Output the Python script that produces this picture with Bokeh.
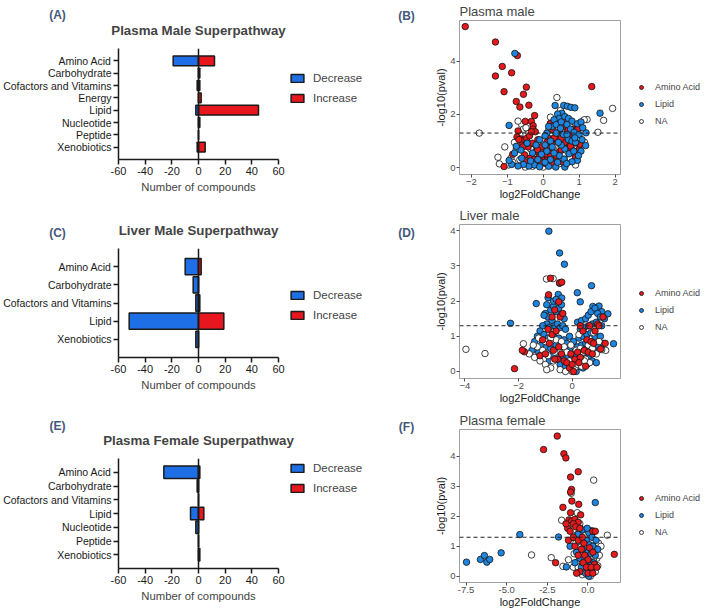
from bokeh.plotting import figure
from bokeh.models import (FactorRange, Range1d, FixedTicker, Span, Legend, LegendItem,
                          Label, ColumnDataSource, PrintfTickFormatter, GridBox)
from bokeh.layouts import column, row
from bokeh.embed import file_html
from bokeh.resources import INLINE

FONT = "Liberation Sans"

# ---------------- bar panels (superpathway counts) ----------------
A_cats = ["Amino Acid", "Carbohydrate", "Cofactors and Vitamins", "Energy",
          "Lipid", "Nucleotide", "Peptide", "Xenobiotics"]
A_dec = [-19, 0, -1, 0, -2, 0, 0, -1]
A_inc = [12, 1, 1, 2, 45, 1, 0, 5]

C_cats = ["Amino Acid", "Carbohydrate", "Cofactors and Vitamins", "Lipid", "Xenobiotics"]
C_dec = [-10, -4, -2, -52, -2]
C_inc = [2, 0, 1, 19, 0]

E_cats = ["Amino Acid", "Carbohydrate", "Cofactors and Vitamins", "Lipid",
          "Nucleotide", "Peptide", "Xenobiotics"]
E_dec = [-26, -1, 0, -6, -2, 0, 0]
E_inc = [1, 0, 0, 4, 0, 0, 1]

bar_ticks = [-60, -40, -20, 0, 20, 40, 60]
bar_series = ["Decrease", "Increase"]

# ---------------- volcano panels (log2FoldChange, -log10(pval)) ----------------
B_amino = [(-2.17, 5.31), (-1.33, 4.73), (-0.72, 4.22), (-1.14, 3.81), (-1.33, 3.45), (-0.88, 3.57),
           (-1.09, 2.86), (-0.47, 3.03), (-0.55, 2.76), (-0.75, 2.49), (-0.65, 2.28), (-0.40, 2.35),
           (1.35, 3.05), (-0.24, 1.96), (-0.50, 1.74), (-0.33, 1.74), (-0.28, 1.58), (-0.29, 1.45),
           (-0.70, 1.38), (-0.73, 1.15), (-0.62, 1.08), (-0.55, 1.02), (-0.46, 1.10), (-0.38, 1.20),
           (-0.22, 1.35), (-0.60, 0.85), (-0.42, 0.78), (-0.30, 0.92), (-0.18, 0.62), (-0.52, 0.48),
           (-0.36, 0.36), (-0.20, 0.22), (-0.08, 0.12), (-0.85, 0.50), (-1.09, 0.04), (-0.50, 0.22),
           (-0.12, 0.40), (-0.02, 0.30), (0.05, 0.55), (0.12, 0.40), (0.18, 0.58), (0.25, 0.92),
           (0.15, 1.10), (0.28, 1.08), (0.38, 1.05), (0.20, 1.65), (0.27, 1.42), (0.45, 1.35),
           (0.55, 1.55), (0.62, 1.75), (0.74, 1.20), (0.84, 1.45), (0.95, 1.45), (0.60, 0.95),
           (0.70, 0.75), (1.00, 0.70), (0.35, 0.25), (0.25, 0.18), (0.90, 0.40), (1.02, 0.88),
           (0.15, 0.75), (-0.05, 0.78), (0.45, 0.60), (0.08, 0.15), (0.50, 1.10), (0.65, 1.50),
           (0.33, 1.70), (0.10, 0.95), (0.40, 0.45), (0.55, 0.20), (-0.15, 1.05), (-0.33, 1.35),
           (-0.46, 0.91), (-0.68, 1.06), (-0.57, 0.78), (-0.16, 0.68), (0.08, 0.51), (0.36, 0.44),
           (0.20, 0.41), (-0.07, 0.22), (-0.25, 0.31), (0.50, 0.66), (0.76, 0.81), (0.90, 0.93),
           (0.69, 1.41), (0.86, 1.21), (0.97, 1.47), (0.31, 1.13), (0.20, 1.66), (0.50, 1.60)]
B_lipid = [(-0.79, 4.30), (1.58, 2.05), (-0.95, 1.59), (0.33, 2.34), (0.57, 2.34), (0.67, 2.31),
           (0.77, 2.27), (0.88, 2.25), (0.52, 2.05), (0.40, 2.02), (0.45, 1.85), (0.60, 1.92),
           (0.70, 1.85), (0.80, 1.75), (0.95, 1.65), (1.05, 1.72), (1.19, 1.31), (1.18, 0.83),
           (1.05, 0.62), (0.95, 0.27), (0.30, 1.80), (0.25, 1.55), (0.36, 1.62), (0.50, 1.72),
           (0.66, 1.62), (0.76, 1.45), (0.86, 1.33), (0.56, 1.25), (0.36, 1.30), (0.70, 1.05),
           (0.80, 1.00), (0.90, 0.95), (0.60, 0.70), (0.50, 0.85), (0.45, 0.45), (0.58, 0.32),
           (0.72, 0.52), (0.80, 0.22), (0.30, 0.55), (0.20, 0.30), (0.10, 0.62), (0.05, 0.85),
           (-0.05, 0.50), (-0.15, 0.30), (-0.25, 0.10), (-0.40, 0.06), (-0.55, 0.12), (-0.70, 0.06),
           (-0.88, 0.12), (-0.95, 0.27), (-0.80, 0.55), (-0.62, 0.66), (-0.45, 0.92), (-0.30, 0.55),
           (-0.20, 0.85), (-0.10, 1.05), (0.10, 1.30), (0.20, 1.00), (0.42, 0.95), (0.66, 1.25),
           (1.00, 1.25), (1.10, 1.50), (0.15, 0.05), (0.35, 0.02), (0.60, 0.02), (-0.10, 0.03),
           (0.05, 0.20), (0.25, 0.78), (0.40, 0.20), (0.65, 0.15), (0.85, 0.62), (0.98, 0.45),
           (0.15, 1.55), (0.05, 1.20), (-0.35, 0.25), (-0.60, 0.35), (0.48, 1.48), (0.88, 1.12),
           (1.08, 1.05), (-0.75, 0.80)]
B_na = [(0.38, 2.64), (-1.78, 1.30), (1.93, 2.23), (1.68, 1.78), (1.52, 1.33), (1.22, 1.81),
        (1.14, 1.80), (-1.07, 0.78), (-1.26, 0.39), (-1.22, 0.14), (-0.60, 1.62), (-0.70, 1.75),
        (-0.55, 1.45), (-0.65, 1.22), (-0.80, 0.95), (-0.75, 0.70), (-0.90, 0.35), (-0.96, 0.10),
        (-0.65, 0.30), (-0.50, 0.02), (-0.30, 0.05), (-0.35, 0.70), (-0.15, 0.95), (-0.05, 0.30),
        (0.00, 0.02), (0.10, 0.30), (0.25, 0.10), (0.30, 0.80), (0.45, 0.15), (0.55, 0.45),
        (0.65, 0.22), (0.75, 0.35), (0.85, 0.60), (0.95, 0.80), (1.05, 0.95), (1.00, 1.10),
        (0.40, 1.50), (0.20, 1.90), (0.48, 2.15), (-0.40, 1.30), (-0.48, 1.50), (0.15, 1.40),
        (0.75, 1.55), (1.15, 0.95), (0.90, 0.10), (-0.25, 0.40), (0.02, 0.60), (0.60, 1.05),
        (-0.85, 0.20), (0.32, 0.40)]

D_amino = [(-0.47, 2.52), (-0.39, 2.54), (-0.81, 2.65), (-0.88, 2.18), (-0.50, 1.98), (-2.15, 0.08),
           (-1.78, 0.56), (-1.86, 0.60), (1.23, 0.80), (1.06, 0.64), (1.15, 1.55), (0.95, 1.35),
           (-0.90, 1.20), (-0.75, 1.05), (-0.60, 1.15), (-0.45, 1.55), (-0.35, 1.65), (-0.85, 0.80),
           (-0.70, 0.60), (-0.55, 0.35), (-0.40, 0.50), (-0.30, 0.30), (-1.20, 0.45), (-1.00, 0.50),
           (-0.65, 0.35), (-0.20, 0.25), (-0.10, 0.10), (0.10, 0.35), (0.20, 0.55), (0.30, 0.40),
           (0.45, 0.60), (0.55, 0.90), (0.70, 0.85), (0.80, 0.80), (0.85, 1.15), (0.65, 1.30),
           (0.40, 1.15), (0.25, 0.25), (0.50, 0.15), (0.60, 0.55), (0.75, 0.50), (0.00, 0.20),
           (-0.05, 0.50), (1.00, 1.30), (0.30, 1.30), (-1.10, 0.90), (-0.65, 1.75), (-0.75, 1.55),
           (-0.50, 0.70), (0.05, 0.00)]
D_lipid = [(-0.87, 3.99), (-0.47, 3.37), (-0.29, 3.05), (0.72, 2.44), (0.19, 2.24), (0.30, 1.98),
           (-1.34, 1.93), (-2.30, 1.37), (-0.47, 2.51), (-0.90, 2.10), (-0.52, 2.19), (-0.39, 2.09),
           (1.54, 0.79), (1.00, 1.86), (0.77, 1.85), (1.10, 1.70), (1.33, 1.64),
           (-1.00, 1.65), (-0.90, 1.55), (-0.80, 1.75), (-0.70, 1.85), (-0.60, 1.70), (-0.50, 1.80),
           (-0.40, 1.60), (-0.30, 1.50), (-0.95, 1.35), (-0.85, 1.25), (-0.75, 1.45), (-0.65, 1.30),
           (-0.55, 1.35), (-0.45, 1.25), (-0.35, 1.30), (-0.25, 1.20), (-1.10, 1.30), (-1.20, 1.15),
           (-1.30, 1.00), (-1.40, 0.85), (-1.05, 1.05), (-0.90, 0.95), (-0.70, 1.00), (-0.50, 0.95),
           (-0.30, 0.90), (-1.15, 0.75), (-0.95, 0.70), (-0.80, 0.65), (-0.60, 0.75), (-0.40, 0.70),
           (-0.20, 0.80), (-1.25, 0.55), (-1.50, 0.60), (-0.75, 0.45), (-0.55, 0.50), (-0.35, 0.45),
           (-0.15, 0.40), (-0.70, 2.00), (-0.60, 2.05), (-0.95, 1.90), (-0.40, 1.90), (-1.05, 1.60),
           (-0.85, 0.30), (-0.45, 0.20), (-0.25, 0.15),
           (0.20, 1.40), (0.35, 1.45), (0.50, 1.50), (0.60, 1.60), (0.70, 1.70), (0.85, 1.80),
           (0.95, 1.65), (1.05, 1.55), (1.20, 1.50), (0.30, 1.20), (0.45, 1.25), (0.60, 1.30),
           (0.75, 1.35), (0.90, 1.40), (1.10, 1.30), (0.25, 0.95), (0.40, 1.00), (0.55, 1.05),
           (0.70, 1.10), (0.85, 1.00), (1.05, 1.00), (1.15, 0.80), (0.20, 0.70), (0.35, 0.75),
           (0.50, 0.80), (0.65, 0.70), (0.80, 0.60), (0.95, 0.75), (0.15, 0.45), (0.30, 0.50),
           (0.45, 0.45), (0.60, 0.40), (0.75, 0.30), (0.10, 0.20), (0.25, 0.15), (0.40, 0.10),
           (0.55, 0.20), (0.05, 0.05), (-0.05, 0.10), (0.15, 0.00), (0.35, 0.30), (0.90, 0.25),
           (-0.10, 0.60), (0.00, 0.35), (-0.10, 1.00), (0.05, 0.85)]
D_na = [(-3.96, 0.63), (-3.25, 0.51), (-0.96, 2.63), (-0.71, 2.64), (-1.82, 0.79), (1.25, 0.60),
        (1.10, 0.62), (-1.60, 0.50), (-1.40, 0.40), (-1.20, 0.30), (-1.00, 0.20), (-0.80, 0.10),
        (-1.30, 0.70), (-1.10, 0.60), (-0.90, 0.45), (-0.70, 0.30), (-0.60, 0.90), (-0.50, 0.60),
        (-0.40, 0.85), (-0.30, 0.70), (-0.20, 0.55), (-0.10, 0.30), (-0.80, 0.95), (-1.00, 0.85),
        (-0.65, 0.55), (0.10, 0.10), (0.20, 0.20), (0.35, 0.15), (0.50, 0.35), (0.65, 0.25),
        (0.15, 0.60), (0.30, 0.65), (0.45, 0.30), (0.60, 0.75), (0.75, 0.65), (0.90, 0.50),
        (1.00, 0.85), (0.00, 0.00), (-0.05, 0.75), (0.25, 1.05), (-0.95, 0.05), (-0.45, 0.05),
        (-0.25, 0.00), (0.40, 0.55), (0.80, 1.10), (-1.25, 0.95), (-1.45, 0.75)]

F_amino = [(-1.89, 4.68), (-2.73, 4.23), (-1.48, 4.09), (-1.36, 3.95), (-0.60, 3.49), (-1.07, 3.31),
           (-1.01, 2.90), (-1.07, 2.81), (-0.99, 2.51), (-0.57, 2.40), (-1.54, 2.30), (-1.07, 2.12),
           (-1.99, 0.45), (1.62, 0.73), (-1.17, 1.88), (-1.00, 1.85), (-0.80, 1.90), (-0.60, 1.80),
           (-0.90, 1.75), (-1.25, 1.60), (-1.10, 1.50), (-0.75, 1.65), (-0.50, 1.60), (-1.20, 1.20),
           (-0.90, 1.30), (-0.60, 1.20), (-0.35, 1.30), (0.30, 1.50), (0.45, 1.50), (-0.80, 1.00),
           (-0.40, 0.90), (0.10, 0.95), (0.30, 0.80), (-0.60, 0.70), (-0.20, 0.70), (0.00, 0.55),
           (0.40, 0.40), (-0.30, 0.45), (-0.10, 0.30), (0.20, 0.30), (-0.50, 0.15), (0.00, 0.10),
           (-0.70, 0.10), (0.30, 0.10), (-0.25, 1.10), (0.55, 0.30), (-1.35, 1.75), (-0.45, 2.05)]
F_lipid = [(-7.47, 0.47), (-6.61, 0.56), (-6.37, 0.69), (-6.22, 0.47), (-6.04, 0.56), (-5.34, 0.78),
           (-4.19, 1.39), (-1.81, 1.31), (0.45, 2.46), (-1.33, 0.31), (0.20, 1.52), (0.05, 1.45),
           (0.25, 1.30), (0.35, 1.50), (-0.10, 1.20), (0.10, 1.05), (0.30, 1.00), (-0.30, 0.90),
           (0.00, 0.80), (0.20, 0.75), (0.45, 0.70), (-0.50, 0.60), (-0.20, 0.55), (0.10, 0.50),
           (0.35, 0.45), (-0.40, 0.30), (0.00, 0.25), (0.20, 0.15), (-0.15, 0.10), (0.05, 0.00),
           (-0.70, 0.80), (-0.60, 1.40), (-0.35, 1.55), (-1.10, 1.00), (-0.80, 0.45), (0.50, 1.20),
           (0.60, 0.90), (-0.05, 1.60), (0.15, 0.35)]
F_na = [(0.35, 3.21), (-3.47, 0.71), (-2.26, 0.62), (1.19, 1.37), (-1.62, 1.87), (-0.66, 2.12),
        (-1.03, 2.77), (-1.54, 0.33), (-0.90, 1.55), (-0.70, 1.35), (-0.50, 1.75), (-0.45, 1.20),
        (-0.20, 1.35), (0.10, 1.25), (-1.00, 1.10), (-0.85, 0.75), (-0.55, 0.95), (-0.30, 0.75),
        (-0.10, 0.95), (0.25, 1.20), (0.50, 0.90), (0.65, 1.10), (0.55, 0.60), (0.35, 0.60),
        (0.15, 0.65), (-0.15, 0.50), (-0.40, 0.60), (-0.70, 0.45), (-0.90, 0.30), (-0.60, 0.30),
        (-0.25, 0.20), (0.05, 0.20), (0.25, 0.45), (0.45, 0.15), (-0.05, 0.05), (0.15, 0.00),
        (-0.35, 0.05), (0.60, 0.35), (0.70, 0.70), (-1.20, 0.55), (-0.75, 1.10), (0.80, 1.00)]

superpathways = ["Amino Acid", "Lipid", "NA"]
panel_letters = ["(A)", "(B)", "(C)", "(D)", "(E)", "(F)"]

BAR_BLUE = "#1E6FE6"
BAR_RED = "#E8161E"
DOT_RED = "#E41A1C"
DOT_BLUE = "#1F86E0"
LETTER_COLOR = "#44587A"
BAR_LINE = "#1a1a1a"
DOT_LINE = "#111111"

W, H = 709, 611


def bar_panel(title, cats, dec, inc, width, height, top, frame_h, bar_h):
    fr = FactorRange(factors=list(reversed(cats)), range_padding=0.5,
                     range_padding_units="absolute")
    p = figure(width=width, height=height, y_range=fr, x_range=Range1d(-60, 60),
               output_backend="svg", toolbar_location=None,
               min_border_left=118, min_border_right=width - 118 - 160,
               min_border_top=top, min_border_bottom=height - top - frame_h)
    src = ColumnDataSource(dict(cat=cats, dec=dec, inc=inc))
    p.hbar(y="cat", left="dec", right=0, height=bar_h, source=src,
           fill_color=BAR_BLUE, line_color=BAR_LINE, line_width=1.5)
    p.hbar(y="cat", left=0, right="inc", height=bar_h, source=src,
           fill_color=BAR_RED, line_color=BAR_LINE, line_width=1.5)
    p.add_layout(Span(location=0, dimension="height", line_color=BAR_LINE, line_width=1.5))

    p.title.text = title
    p.title.align = "center"
    p.title.text_font = FONT
    p.title.text_font_size = "13.3px"
    p.title.text_font_style = "bold"
    p.title.standoff = 22

    p.xgrid.visible = False
    p.ygrid.visible = False
    p.outline_line_color = None
    for ax in (p.xaxis, p.yaxis):
        ax.axis_line_color = BAR_LINE
        ax.axis_line_width = 1.5
        ax.major_tick_line_color = BAR_LINE
        ax.major_tick_line_width = 1.5
        ax.major_tick_in = 0
        ax.major_tick_out = 5
        ax.minor_tick_line_color = None
        ax.major_label_text_font = FONT
        ax.major_label_text_color = BAR_LINE
        ax.major_label_standoff = 2
    p.yaxis.major_label_text_font_size = "10.5px"
    p.xaxis.major_label_text_font_size = "11px"
    p.xaxis.ticker = FixedTicker(ticks=bar_ticks)
    p.xaxis.formatter = PrintfTickFormatter(format="%d")
    p.xaxis.axis_label = "Number of compounds"
    p.xaxis.axis_label_text_font = FONT
    p.xaxis.axis_label_text_font_size = "11.3px"
    p.xaxis.axis_label_text_font_style = "normal"
    p.xaxis.axis_label_standoff = 3
    return p


def volcano(title, layers, xr, yr, xt, yt, fmt, width, height, top, frame_h):
    p = figure(width=width, height=height, x_range=Range1d(*xr), y_range=Range1d(*yr),
               output_backend="svg", toolbar_location=None,
               min_border_left=95, min_border_right=width - 95 - 161,
               min_border_top=top, min_border_bottom=height - top - frame_h)
    for name, pts, color in layers:
        xs = [a for a, b in pts]
        ys = [b for a, b in pts]
        p.scatter(xs, ys, size=6.5, fill_color=color, line_color=DOT_LINE, line_width=0.8)
    p.add_layout(Span(location=1.30103, dimension="width", line_color="#222222",
                      line_width=1, line_dash="4 3"))

    p.title.text = title
    p.title.align = "left"
    p.title.text_font = FONT
    p.title.text_font_size = "13px"
    p.title.text_font_style = "normal"
    p.title.standoff = 3

    p.xgrid.visible = False
    p.ygrid.visible = False
    p.outline_line_color = "#A0A0A0"
    p.outline_line_width = 1
    for ax in (p.xaxis, p.yaxis):
        ax.axis_line_color = None
        ax.major_tick_line_color = "#4D4D4D"
        ax.major_tick_in = 0
        ax.major_tick_out = 3
        ax.minor_tick_line_color = None
        ax.major_label_text_font = FONT
        ax.major_label_text_font_size = "9.5px"
        ax.major_label_text_color = "#4D4D4D"
        ax.major_label_standoff = 1
        ax.axis_label_text_font = FONT
        ax.axis_label_text_font_size = "11px"
        ax.axis_label_text_font_style = "normal"
        ax.axis_label_text_color = "#1a1a1a"
        ax.axis_label_standoff = 0
    p.xaxis.ticker = FixedTicker(ticks=xt)
    p.yaxis.ticker = FixedTicker(ticks=yt)
    if fmt:
        p.xaxis.formatter = PrintfTickFormatter(format=fmt)
    p.xaxis.axis_label = "log2FoldChange"
    p.yaxis.axis_label = "-log10(pval)"
    return p


LW, RW = 364, 345

pA = bar_panel("Plasma Male Superpathway", A_cats, A_dec, A_inc, LW, 200, 48, 111, 0.8)
pC = bar_panel("Liver Male Superpathway", C_cats, C_dec, C_inc, LW, 200, 48, 109, 0.9)
pE = bar_panel("Plasma Female Superpathway", E_cats, E_dec, E_inc, LW, 211, 58, 110, 0.92)

pB = volcano("Plasma male",
             [("NA", B_na, "white"), ("Amino Acid", B_amino, DOT_RED), ("Lipid", B_lipid, DOT_BLUE)],
             (-2.33, 2.15), (-0.26, 5.54), [-2, -1, 0, 1, 2], [0, 2, 4], None,
             RW, 203, 19, 155)
pD = volcano("Liver male",
             [("Lipid", D_lipid, DOT_BLUE), ("NA", D_na, "white"), ("Amino Acid", D_amino, DOT_RED)],
             (-4.2, 1.8), (-0.2, 4.18), [-4, -2, 0], [0, 1, 2, 3, 4], None,
             RW, 204, 21, 154)
pF = volcano("Plasma female",
             [("NA", F_na, "white"), ("Lipid", F_lipid, DOT_BLUE), ("Amino Acid", F_amino, DOT_RED)],
             (-7.9, 2.0), (-0.21, 4.9), [-7.5, -5.0, -2.5, 0.0], [0, 1, 2, 3, 4], "%.1f",
             RW, 204, 22, 153)

main = row(column(pA, pC, pE), column(pB, pD, pF))

# transparent overlay carrying the panel letters and the legends (page pixels)
ov = figure(width=W, height=H, x_range=Range1d(0, W), y_range=Range1d(H, 0),
            output_backend="svg", toolbar_location=None, x_axis_type=None, y_axis_type=None,
            min_border=0, background_fill_alpha=0, border_fill_alpha=0)
ov.outline_line_color = None
ov.xgrid.visible = False
ov.ygrid.visible = False
letter_pos = [(57, 14), (406, 15), (57, 232), (406, 232), (57, 425), (406, 426)]
for txt, (lx, ly) in zip(panel_letters, letter_pos):
    ov.add_layout(Label(x=lx, y=ly, text=txt, text_font=FONT, text_font_size="12px",
                        text_font_style="bold", text_color=LETTER_COLOR,
                        text_baseline="middle", text_align="center"))

# legend keys: hidden copies of the series (not drawn, only their legend swatches)
k_dec = ov.hbar(y=list(range(len(A_dec))), left=A_dec, right=0, height=0.8,
                fill_color=BAR_BLUE, line_color=BAR_LINE, line_width=1.5, visible=False)
k_inc = ov.hbar(y=list(range(len(A_inc))), left=0, right=A_inc, height=0.8,
                fill_color=BAR_RED, line_color=BAR_LINE, line_width=1.5, visible=False)
k_dots = [ov.scatter(x=[a for a, b in pts], y=[b for a, b in pts], size=6.5, fill_color=c,
                     line_color=DOT_LINE, line_width=0.8, visible=False)
          for pts, c in ((B_amino, DOT_RED), (B_lipid, DOT_BLUE), (B_na, "white"))]

for bottom in (104.5, 322, 494.5):
    ov.add_layout(Legend(items=[LegendItem(label=bar_series[0], renderers=[k_dec]),
                                LegendItem(label=bar_series[1], renderers=[k_inc])],
                         location=(289, H - bottom), glyph_width=16, glyph_height=10,
                         label_height=14, spacing=6, padding=0, margin=0, label_standoff=8,
                         border_line_color=None, background_fill_alpha=0,
                         inactive_fill_alpha=0,
                         label_text_font=FONT, label_text_font_size="11.5px"))
for bottom in (127, 333, 538):
    ov.add_layout(Legend(items=[LegendItem(label=n, renderers=[r])
                                for n, r in zip(superpathways, k_dots)],
                         location=(636, H - bottom), glyph_width=10, glyph_height=12,
                         label_height=12, spacing=5, padding=0, margin=0, label_standoff=9,
                         border_line_color=None, background_fill_alpha=0,
                         inactive_fill_alpha=0,
                         label_text_font=FONT, label_text_font_size="9px"))

layout = GridBox(children=[(main, 0, 0), (ov, 0, 0)])

with open("out.html", "w") as f:
    f.write(file_html(layout, INLINE))
